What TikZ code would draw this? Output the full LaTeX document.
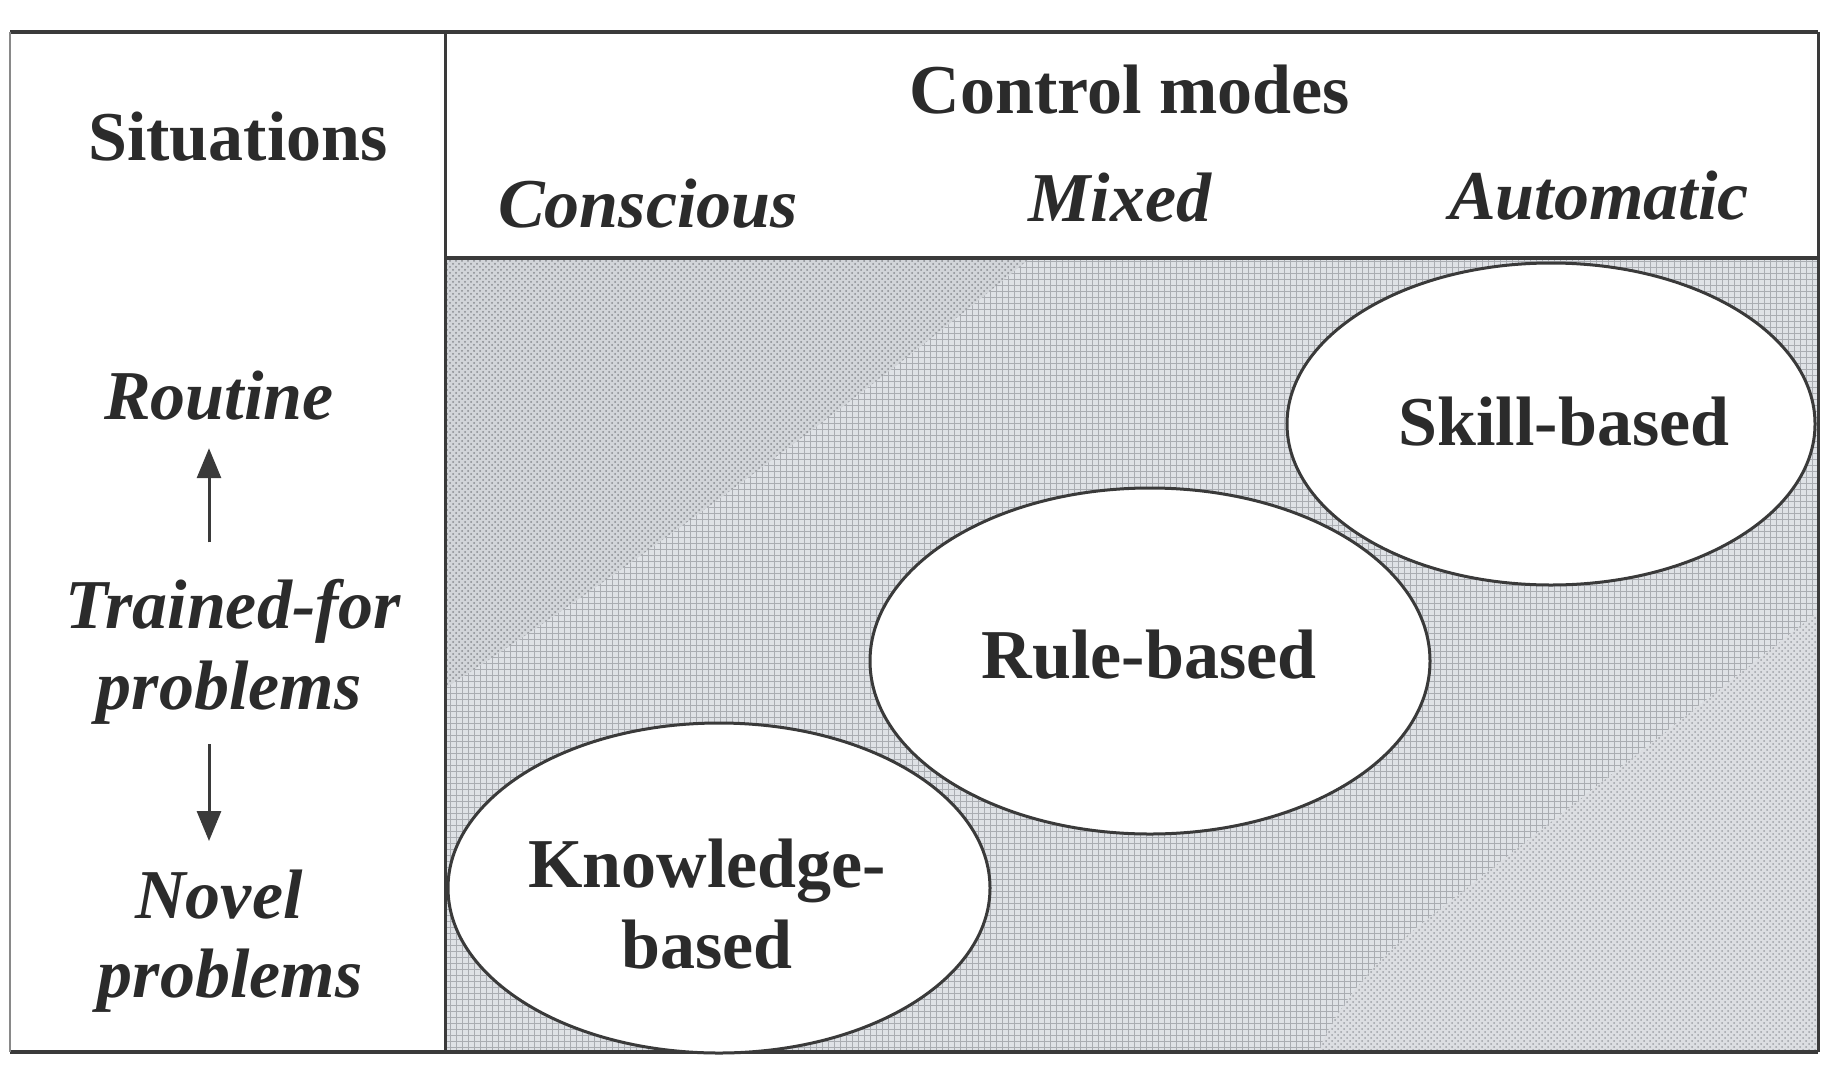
\documentclass[tikz,border=0pt]{standalone}
\usepackage{fontspec}
\setmainfont{Liberation Serif}
\usetikzlibrary{arrows.meta,shapes.geometric,patterns}

\definecolor{inkgray}{HTML}{2B2B2B}
\definecolor{linegray}{HTML}{3A3A3A}
\definecolor{consciousgray}{HTML}{D2D5D9}
\definecolor{consciousdot}{HTML}{878A8F}
\definecolor{mixedgray}{HTML}{DFE2E6}
\definecolor{mixedspeck}{HTML}{AAADB2}
\definecolor{automaticgray}{HTML}{DCDEE2}
\definecolor{automaticdot}{HTML}{9EA1A6}

\tikzset{%
  >={Triangle[width=12pt,length=15pt]},
  % Specifications for style of nodes:
     headtext/.style = {anchor=base, inner sep=0pt, text=inkgray,
                        font=\fontsize{35}{42}\selectfont\bfseries},
     modetext/.style = {headtext, font=\fontsize{35}{42}\selectfont\bfseries\itshape},
   modebubble/.style = {ellipse, draw=linegray, line width=1.5pt, inner sep=0pt},
  % Specifications for style of lines:
    frameline/.style = {draw=linegray, line width=2.2pt},
    splitline/.style = {draw=linegray, line width=1.5pt},
}

\begin{document}
\begin{tikzpicture}[x=0.5pt, y=-0.5pt, line join=round]
  \useasboundingbox (0,0) rectangle (1823,1065);
  \fill[white] (0,0) rectangle (1823,1065);

  % Shaded body of the table: mixed band, then the two outer bands
  \fill[mixedgray] (445,258) rectangle (1818,1052);
  \path[pattern=grid, pattern color=mixedspeck] (445,258) rectangle (1818,1052);
  \fill[consciousgray] (445,258) -- (1030,258)
      .. controls (860,400) and (600,590) .. (445,688) -- cycle;
  \path[pattern=crosshatch dots, pattern color=consciousdot] (445,258) -- (1030,258)
      .. controls (860,400) and (600,590) .. (445,688) -- cycle;
  \fill[automaticgray] (1818,612) -- (1420,925)
      .. controls (1370,965) and (1335,1010) .. (1318,1052) -- (1818,1052) -- cycle;
  \path[pattern=crosshatch dots, pattern color=automaticdot] (1818,612) -- (1420,925)
      .. controls (1370,965) and (1335,1010) .. (1318,1052) -- (1818,1052) -- cycle;

  % Table frame
  \draw[frameline] (10,32) -- (1818,32);
  \draw[frameline] (445,258) -- (1818,258);
  \draw[frameline] (10,1052) -- (1818,1052);
  \draw[splitline] (445,32) -- (445,1052);
  \draw[splitline] (1818,32) -- (1818,1052);
  \draw[draw=linegray!60, line width=1pt] (10,32) -- (10,1052);

  % Centres of the three modes
  \coordinate (knowc) at (719,888);
  \coordinate (rulec) at (1150,661);
  \coordinate (skillc) at (1551,424);
  \fill[white] (knowc) ellipse [x radius=271, y radius=165];
  \fill[white] (rulec) ellipse [x radius=280, y radius=173];
  \fill[white] (skillc) ellipse [x radius=264, y radius=161];

  \node (know)  [modebubble, minimum width=271pt, minimum height=165pt] at (knowc) {};
  \node (rule)  [modebubble, minimum width=280pt, minimum height=173pt] at (rulec) {};
  \node (skill) [modebubble, minimum width=264pt, minimum height=161pt] at (skillc) {};

  \node (knowA)     [headtext] at (707,887)  {Knowledge-};
  \node (knowB)     [headtext] at (707,968)  {based};
  \node (ruletext)  [headtext] at (1149,678) {Rule-based};
  \node (skilltext) [headtext] at (1564,445) {Skill-based};

  % Column headings
  \node (situations) [headtext]  at (238,160)  {Situations};
  \node (control)    [headtext]  at (1130,113) {Control modes};
  \node (conscious)  [modetext]  at (648,227)  {Conscious};
  \node (mixed)      [modetext]  at (1120,221) {Mixed};
  \node (automatic)  [modetext]  at (1599,219) {Automatic};

  % Situations, from routine to novel
  \node (routine)  [modetext] at (219,419) {Routine};
  \node (trained)  [modetext] at (233,628) {Trained-for};
  \node (probA)    [modetext] at (229,709) {problems};
  \node (novel)    [modetext] at (219,918) {Novel};
  \node (probB)    [modetext] at (230,997) {problems};

  \coordinate (ax) at (209,0);
  \draw[->, splitline, shorten <=18pt, shorten >=14pt]
    (trained.north -| ax) -- (routine.south -| ax);
  \draw[->, splitline, shorten <=10pt, shorten >=14pt]
    (probA.south -| ax) -- (novel.north -| ax);
\end{tikzpicture}
\end{document}
